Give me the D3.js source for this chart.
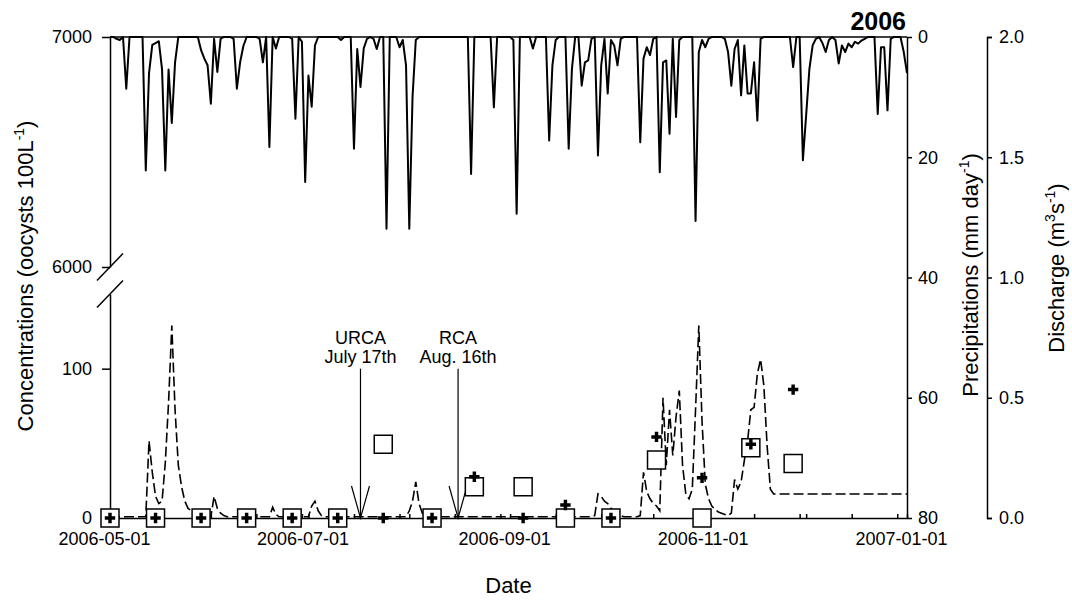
<!DOCTYPE html>
<html>
<head>
<meta charset="utf-8">
<script src="https://cdn.jsdelivr.net/npm/d3@7"></script>
<style>
  body { margin: 0; background: #fff; }
  svg text { font-family: "Liberation Sans", Arial, sans-serif; fill: #000; }
</style>
</head>
<body>
<script>
// daily series start on this date
const seriesStart = '2006-05-01';

// precipitation, mm/day, one value per day from 2006-05-01
const precipitation = [
  0, 0, 0.3, 0.5, 0, 8.6, 0, 0, 0, 0,
  0, 22.2, 6, 1.3, 1.0, 0.7, 5.4, 22.2, 5.4, 14.3,
  4.2, 0, 0, 0, 0, 0, 0, 0, 2.2, 3.6,
  4.7, 11.1, 0.3, 5.8, 0.3, 0, 0, 0, 0.3, 8.6,
  4.2, 1.5, 0, 0, 0, 0, 0.3, 4.2, 0, 18.3,
  0, 1.9, 0, 0, 0, 0, 0.3, 13.6, 0, 0.8,
  24.1, 6.4, 11.6, 1.4, 0, 0, 0, 0, 0, 0,
  0, 0.5, 0, 0, 0, 18.6, 2, 8.3, 1.9, 0.3,
  0, 0.3, 2, 0, 0, 31.9, 0, 0, 0, 1.7,
  0.5, 4.7, 31.9, 10, 0.5, 0, 0, 0, 0, 0,
  0, 0, 0, 0, 0, 0, 0, 0, 0, 0,
  0, 22.8, 0, 0, 0, 0, 0, 0, 11.7, 0,
  0, 0, 0, 0, 0.5, 29.4, 0, 0, 0, 0,
  1.9, 0, 0, 0, 0, 17.2, 4.7, 0.5, 0, 0,
  0, 18.6, 5.3, 0, 0, 8.1, 4.2, 3.9, 0.3, 0,
  19.7, 4.7, 0.3, 9.4, 0.5, 1.4, 4.7, 0.3, 0, 0,
  0, 0, 0, 17.5, 3.6, 1.7, 3, 0.3, 0, 22.5,
  4.2, 3.9, 16.1, 0.3, 13.3, 0.5, 0, 0, 0, 0,
  30.6, 2.5, 0.5, 1.7, 0.3, 0, 0, 0, 0, 0.3,
  2.5, 8.1, 2, 0.5, 9.7, 1.4, 9.4, 9.4, 4.2, 13.9,
  0.3, 0, 0, 0, 0, 0, 0, 0, 0, 0,
  5, 0, 0, 20.5, 13, 5.3, 1.4, 0.3, 0, 1,
  2.5, 0.5, 0, 0.5, 4.4, 1.4, 2.5, 1.1, 1.7, 0.8,
  1.1, 0.6, 0.3, 0, 0, 0, 12.8, 1.7, 1.7, 12.2,
  0.3, 0, 0, 0, 2.5, 6
];

// discharge, m3/s, one value per day from 2006-05-01
const discharge = [
  0.005, 0.005, 0.005, 0.005, 0.005, 0.005, 0.005, 0.005, 0.005, 0.005,
  0.005, 0.005, 0.32, 0.19, 0.09, 0.06, 0.07, 0.23, 0.48, 0.80,
  0.45, 0.22, 0.13, 0.07, 0.04, 0.03, 0.02, 0.015, 0.01, 0.005,
  0.005, 0.005, 0.09, 0.04, 0.02, 0.01, 0.005, 0.005, 0.005, 0.005,
  0.005, 0.005, 0.005, 0.005, 0.005, 0.005, 0.005, 0.005, 0.005, 0.005,
  0.045, 0.015, 0.005, 0.005, 0.005, 0.005, 0.005, 0.005, 0.005, 0.005,
  0.005, 0.005, 0.05, 0.07, 0.03, 0.01, 0.005, 0.005, 0.005, 0.005,
  0.005, 0.005, 0.005, 0.005, 0.005, 0.005, 0.005, 0.005, 0.005, 0.005,
  0.005, 0.005, 0.005, 0.005, 0.005, 0.005, 0.005, 0.005, 0.005, 0.005,
  0.005, 0.005, 0.03, 0.07, 0.15, 0.06, 0.02, 0.005, 0.005, 0.005,
  0.005, 0.005, 0.005, 0.005, 0.005, 0.005, 0.005, 0.005, 0.005, 0.005,
  0.005, 0.005, 0.005, 0.005, 0.005, 0.005, 0.005, 0.005, 0.005, 0.005,
  0.005, 0.005, 0.005, 0.005, 0.005, 0.005, 0.005, 0.005, 0.005, 0.005,
  0.005, 0.005, 0.005, 0.005, 0.005, 0.005, 0.005, 0.005, 0.005, 0.005,
  0.005, 0.005, 0.005, 0.005, 0.005, 0.005, 0.005, 0.005, 0.005, 0.01,
  0.10, 0.09, 0.07, 0.06, 0.04, 0.03, 0.02, 0.01, 0.005, 0.005,
  0.005, 0.005, 0.005, 0.01, 0.19, 0.11, 0.08, 0.06, 0.05, 0.03,
  0.50, 0.22, 0.45, 0.26, 0.42, 0.53, 0.22, 0.10, 0.08, 0.12,
  0.45, 0.80, 0.40, 0.14, 0.08, 0.05, 0.035, 0.025, 0.02, 0.015,
  0.01, 0.02, 0.16, 0.12, 0.15, 0.24, 0.32, 0.45, 0.46, 0.60,
  0.66, 0.55, 0.30, 0.12, 0.10, 0.10, 0.10, 0.10, 0.10, 0.10,
  0.10, 0.10, 0.10, 0.10, 0.10, 0.10, 0.10, 0.10, 0.10, 0.10,
  0.10, 0.10, 0.10, 0.10, 0.10, 0.10, 0.10, 0.10, 0.10, 0.10,
  0.10, 0.10, 0.10, 0.10, 0.10, 0.10, 0.10, 0.10, 0.10, 0.10,
  0.10, 0.10, 0.10, 0.10, 0.10, 0.10
];

// sampling campaigns, oocysts / 100 L
const sampleDates = ['2006-05-01', '2006-05-15', '2006-05-29', '2006-06-12', '2006-06-26', '2006-07-10',
  '2006-07-24', '2006-08-08', '2006-08-21', '2006-09-05', '2006-09-18', '2006-10-02',
  '2006-10-16', '2006-10-30', '2006-11-14', '2006-11-27'];
const squareValues = [0, 0, 0, 0, 0, 0, 49.4, 0, 20.9, 20.9, 0, 0, 38.9, 0, 47, 36.5];
const crossValues = [0, 0, 0, 0, 0, 0, 0, 0, 27.6, 0, 8.7, 0, 54.3, 26.9, 49.4, 86];

// events
const eventDates = ['2006-07-17', '2006-08-16'];
const eventTitles = ['URCA', 'RCA'];
const eventSubtitles = ['July 17th', 'Aug. 16th'];

// axes
const dateDomain = ['2006-05-01', '2007-01-01'];
const dateLabels = ['2006-05-01', '2006-07-01', '2006-09-01', '2006-11-01', '2007-01-01'];
const concTicksLow = [0, 100];
const concTicksHigh = [6000, 7000];
const precipTicks = [0, 20, 40, 60, 80];
const dischargeTicks = [0, 0.5, 1.0, 1.5, 2.0];

const parse = d3.timeParse('%Y-%m-%d');
const fmt = d3.timeFormat('%Y-%m-%d');
const start = parse(seriesStart);
const days = precipitation.map((v, i) => d3.timeDay.offset(start, i));

const W = 1072, H = 600;
const mLeft = 110, mRight = 907, mTop = 37, mBottom = 518;

const svg = d3.select('body').append('svg')
  .attr('width', W)
  .attr('height', H);

const x = d3.scaleTime().domain(dateDomain.map(parse)).range([mLeft, mRight]);
const yLow = d3.scaleLinear().domain([0, 150]).range([mBottom, 294]);
const yHigh = d3.scaleLinear().domain([6000, 7000]).range([267, mTop]);
const yPrec = d3.scaleLinear().domain([0, 80]).range([mTop, mBottom]);
const yQ = d3.scaleLinear().domain([0, 2]).range([mBottom, mTop]);

const font = '"Liberation Sans", Arial, sans-serif';

function styleAxis(g, size) {
  g.attr('font-family', font).attr('font-size', size);
  g.selectAll('path, line').attr('stroke', '#000').attr('stroke-width', 1.5);
  g.selectAll('text').attr('fill', '#000');
}

// precipitation hyetograph hanging from the top
svg.append('path')
  .datum(precipitation)
  .attr('fill', 'none')
  .attr('stroke', '#000')
  .attr('stroke-width', 2)
  .attr('stroke-linejoin', 'round')
  .attr('d', d3.line().x((d, i) => x(days[i])).y(d => yPrec(d)));

// discharge
svg.append('path')
  .datum(discharge)
  .attr('fill', 'none')
  .attr('stroke', '#000')
  .attr('stroke-width', 1.6)
  .attr('stroke-dasharray', '10,4')
  .attr('d', d3.line().x((d, i) => x(days[i])).y(d => yQ(d)));

// top frame line
svg.append('line')
  .attr('x1', mLeft).attr('x2', mRight)
  .attr('y1', mTop).attr('y2', mTop)
  .attr('stroke', '#000').attr('stroke-width', 1.5);

// x axis: inner ticks every two weeks
const biweekly = d3.timeDay.every(14).range(start, d3.timeDay.offset(start, 246));
svg.append('g')
  .attr('transform', `translate(0,${mBottom})`)
  .call(d3.axisBottom(x).tickValues(biweekly).tickSizeInner(-4).tickSizeOuter(0).tickFormat(''))
  .call(g => styleAxis(g, 18));

svg.append('g')
  .attr('transform', `translate(0,${mBottom})`)
  .call(d3.axisBottom(x).tickValues(dateLabels.map(parse)).tickSize(0).tickPadding(14).tickFormat(fmt))
  .call(g => styleAxis(g, 18))
  .call(g => g.select('.domain').remove())
  .call(g => g.selectAll('text').attr('dx', -6));

// left axis, lower and upper parts
svg.append('g')
  .attr('transform', `translate(${mLeft},0)`)
  .call(d3.axisLeft(yLow).tickValues(concTicksLow).tickSize(8).tickSizeOuter(0).tickPadding(10)
    .tickFormat(d3.format('d')))
  .call(g => styleAxis(g, 18));

svg.append('g')
  .attr('transform', `translate(${mLeft},0)`)
  .call(d3.axisLeft(yHigh).tickValues(concTicksHigh).tickSize(8).tickSizeOuter(0).tickPadding(10)
    .tickFormat(d3.format('d')))
  .call(g => styleAxis(g, 18));

// axis break marks
[yHigh(6000), yLow(150)].forEach(yy => {
  svg.append('line')
    .attr('x1', mLeft - 13).attr('y1', yy + 13.5)
    .attr('x2', mLeft + 13).attr('y2', yy - 13.5)
    .attr('stroke', '#000').attr('stroke-width', 1.5);
});

// right precipitation axis
svg.append('g')
  .attr('transform', `translate(${mRight},0)`)
  .call(d3.axisRight(yPrec).tickValues(precipTicks).tickSize(5).tickSizeOuter(0).tickPadding(6))
  .call(g => styleAxis(g, 18));

// discharge axis
const qx = 987;
svg.append('g')
  .attr('transform', `translate(${qx},0)`)
  .call(d3.axisRight(yQ).tickValues(dischargeTicks).tickSize(5).tickSizeOuter(5).tickPadding(7)
    .tickFormat(d3.format('.1f')))
  .call(g => styleAxis(g, 18));

// event arrows
eventDates.forEach((d, i) => {
  const ex = x(parse(d));
  const y0 = yLow(100), y1 = yLow(0);
  const g = svg.append('g').attr('stroke', '#000').attr('stroke-width', 1.2).attr('fill', 'none');
  g.append('line').attr('x1', ex).attr('x2', ex).attr('y1', y0).attr('y2', y1);
  g.append('path').attr('d', `M${ex - 9},${y1 - 32}L${ex},${y1}L${ex + 9},${y1 - 32}`);
  svg.append('text').attr('x', ex).attr('y', y0 - 25)
    .attr('text-anchor', 'middle').attr('font-size', 18).text(eventTitles[i]);
  svg.append('text').attr('x', ex).attr('y', y0 - 6)
    .attr('text-anchor', 'middle').attr('font-size', 18).text(eventSubtitles[i]);
});

// squares
svg.append('g').selectAll('path')
  .data(squareValues)
  .join('path')
  .attr('transform', (d, i) => `translate(${x(parse(sampleDates[i]))},${yLow(d)})`)
  .attr('d', d3.symbol(d3.symbolSquare, 324))
  .attr('fill', '#fff')
  .attr('stroke', '#000')
  .attr('stroke-width', 1.5);

// crosses
svg.append('g').selectAll('path')
  .data(crossValues)
  .join('path')
  .attr('transform', (d, i) => `translate(${x(parse(sampleDates[i]))},${yLow(d)})`)
  .attr('d', d3.symbol(d3.symbolCross, 60))
  .attr('fill', '#000');

// titles
svg.append('text')
  .attr('x', 906).attr('y', 30)
  .attr('text-anchor', 'end')
  .attr('font-size', 25).attr('font-weight', 'bold')
  .text('2006');

svg.append('text')
  .attr('x', (mLeft + mRight) / 2).attr('y', 593)
  .attr('text-anchor', 'middle')
  .attr('font-size', 22)
  .text('Date');

function rotatedLabel(cx, cy, parts) {
  const t = svg.append('text')
    .attr('transform', `translate(${cx},${cy}) rotate(-90)`)
    .attr('text-anchor', 'middle')
    .attr('font-size', 22);
  let shifted = false;
  parts.forEach(p => {
    if (p.sup) {
      t.append('tspan').attr('dy', -9).attr('font-size', 14).text(p.sup);
      shifted = true;
    } else {
      const s = t.append('tspan').text(p.t);
      if (shifted) { s.attr('dy', 9); shifted = false; }
    }
  });
}

rotatedLabel(33, 276, [{ t: 'Concentrations (oocysts 100L' }, { sup: '-1' }, { t: ')' }]);
rotatedLabel(978, 275, [{ t: 'Precipitations (mm day' }, { sup: '-1' }, { t: ')' }]);
rotatedLabel(1064, 268, [{ t: 'Discharge (m' }, { sup: '3' }, { t: 's' }, { sup: '-1' }, { t: ')' }]);
</script>
</body>
</html>
